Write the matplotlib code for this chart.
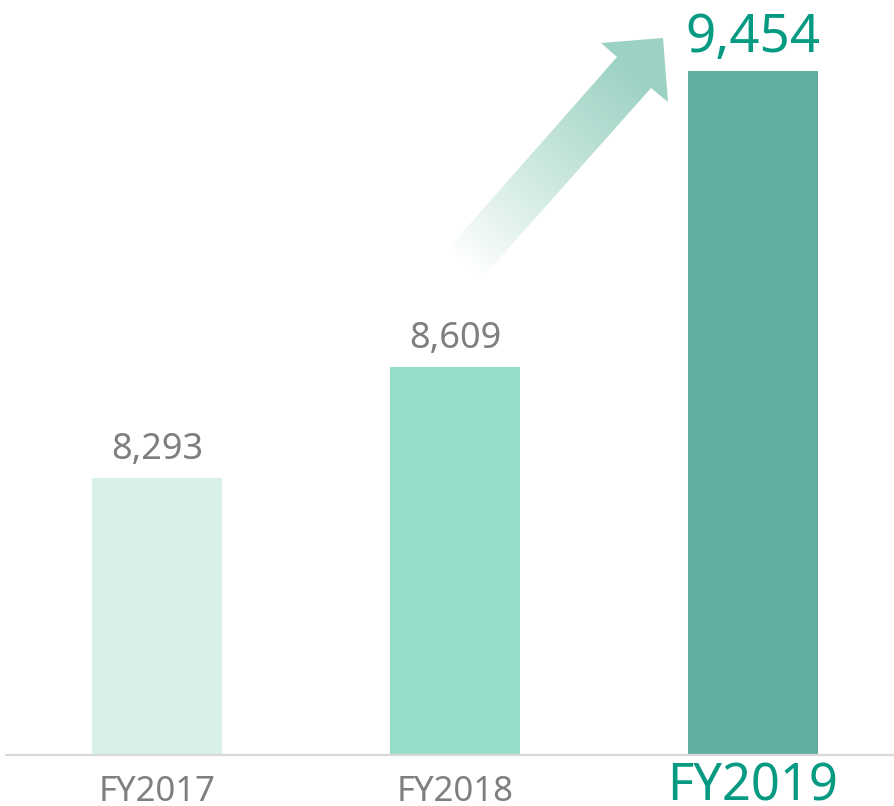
import numpy as np
import matplotlib
matplotlib.use('Agg')
import matplotlib.pyplot as plt
from matplotlib.patches import Polygon

plt.rcParams['font.family'] = ['Noto Sans', 'DejaVu Sans']

years = ['FY2017', 'FY2018', 'FY2019']
values = [8293, 8609, 9454]
bar_colors = ['#d9f0ea', '#97dccb', '#5faea0']
value_colors = ['#7f7f7f', '#7f7f7f', '#079a82']
value_sizes = [26, 26, 38]
label_sizes = [25, 25, 36.5]

W, H = 894, 806
fig = plt.figure(figsize=(W / 100, H / 100), dpi=100)
ax = fig.add_axes([6 / W, (H - 755) / H, (W - 6) / W, 755 / H])
x = np.arange(len(years))
ax.bar(x, values, width=130 / 298, color=bar_colors, zorder=2)
ax.set_xlim(-151 / 298, (W - 157) / 298)
ax.set_ylim(7501, 9657)
for s in ['left', 'right', 'top']:
    ax.spines[s].set_visible(False)
ax.spines['bottom'].set_color('#d9d9d9')
ax.spines['bottom'].set_linewidth(1.6)
ax.set_xticks([])
ax.set_yticks([])

for i, v in enumerate(values):
    ax.annotate(f"{v:,}", xy=(i, v), xytext=(0, 13.5), textcoords='offset points',
                ha='center', va='baseline', fontsize=value_sizes[i], color=value_colors[i])
    ax.annotate(years[i], xy=(i, 0), xycoords=('data', 'axes fraction'),
                xytext=(0, -33), textcoords='offset points',
                ha='center', va='baseline', fontsize=label_sizes[i], color=value_colors[i])

# decorative gradient arrow (figure pixel space)
oax = fig.add_axes([0, 0, 1, 1], zorder=5)
oax.set_xlim(0, W)
oax.set_ylim(H, 0)
oax.axis('off')
pts = [(447, 250), (617, 57), (601, 43), (663, 38), (668, 102), (651, 88), (483, 277)]
poly = Polygon(pts, closed=True, transform=oax.transData, facecolor='none', edgecolor='none')
oax.add_patch(poly)
x0, x1, y0, y1 = 430, 680, 25, 290
X, Y = np.meshgrid(np.linspace(x0, x1, 500), np.linspace(y0, y1, 530))
tail = np.array([465.0, 263.5])
base = np.array([634.5, 72.5])
d = base - tail
t = ((X - tail[0]) * d[0] + (Y - tail[1]) * d[1]) / (d @ d)
alpha = np.clip(t, 0, 1) ** 0.9
rgba = np.zeros(X.shape + (4,))
rgba[..., 0] = 0x9c / 255
rgba[..., 1] = 0xd3 / 255
rgba[..., 2] = 0xc4 / 255
rgba[..., 3] = alpha
im = oax.imshow(rgba, extent=(x0, x1, y1, y0), origin='upper', interpolation='bilinear', aspect='auto')
im.set_clip_path(poly)
oax.set_xlim(0, W)
oax.set_ylim(H, 0)

fig.savefig('out.png', dpi=100)
